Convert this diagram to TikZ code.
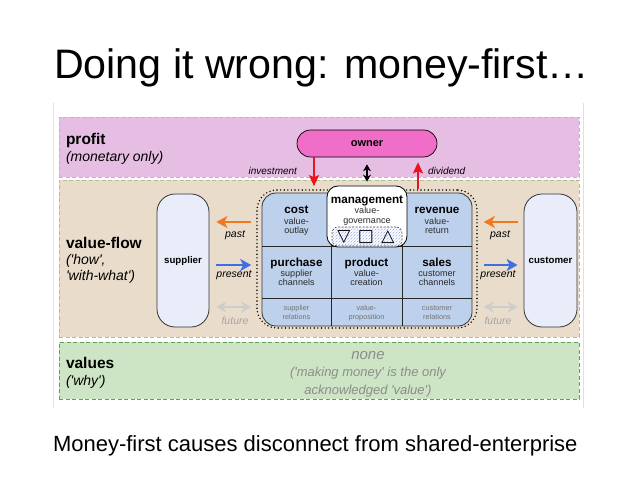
\documentclass[tikz,border=0pt]{standalone}
\usepackage{fontspec}
\setmainfont{Liberation Sans}
\newfontfamily\symfont{DejaVu Sans}
\usetikzlibrary{arrows.meta,patterns}
\newcommand\myq{\textquotesingle}
\definecolor{pinkband}{RGB}{230,190,227}
\definecolor{tanband}{RGB}{234,220,203}
\definecolor{greenband}{RGB}{205,229,196}
\definecolor{tanborder}{RGB}{175,190,150}
\definecolor{greenborder}{RGB}{95,160,85}
\definecolor{ownerfill}{RGB}{240,110,200}
\definecolor{cellblue}{RGB}{190,209,236}
\definecolor{boxfill}{RGB}{233,237,249}
\definecolor{arroworange}{RGB}{240,120,30}
\definecolor{arrowblue}{RGB}{65,110,225}
\definecolor{arrowgray}{RGB}{205,205,205}
\definecolor{arrowred}{RGB}{235,20,30}
\definecolor{textgray}{RGB}{140,140,140}
\definecolor{subgray}{RGB}{40,40,40}
\definecolor{relgray}{RGB}{115,115,115}
\definecolor{futuregray}{RGB}{165,165,165}
\tikzset{
  band/.style={dash pattern=on 4pt off 2.5pt, line width=0.8pt, minimum width=520pt, inner sep=0pt},
  tx/.style={inner sep=0pt, outer sep=0pt, anchor=base},
  txl/.style={inner sep=0pt, outer sep=0pt, anchor=base west},
  bandtitle/.style={txl, font=\fontsize{15.5}{15.5}\selectfont\bfseries},
  bandsub/.style={txl, font=\fontsize{14}{14}\selectfont\itshape},
  celltitle/.style={tx, font=\fontsize{11.7}{11.7}\selectfont\bfseries},
  cellsub/.style={tx, text=subgray, font=\fontsize{9}{9}\selectfont},
  cellrel/.style={tx, text=relgray, font=\fontsize{7.3}{7.3}\selectfont},
  flowlbl/.style={tx, font=\fontsize{10.5}{10.5}\selectfont\itshape},
  sidebox/.style={draw=black!80, line width=0.8pt, fill=boxfill, rounded corners=18pt, minimum width=52pt, minimum height=133pt, inner sep=0pt, font=\fontsize{9.7}{9.7}\selectfont\bfseries},
  flow/.style={line width=2.6pt, -{Stealth[length=11pt,width=12pt,inset=3pt]}},
  flowboth/.style={line width=2.4pt, arrowgray, {Stealth[length=10pt,width=11pt,inset=3pt]}-{Stealth[length=10pt,width=11pt,inset=3pt]}},
  redarrow/.style={arrowred, line width=2pt, -{Stealth[length=11pt,width=10pt,inset=2pt]}},
  sym/.style={inner sep=0pt, font=\symfont\fontsize{17}{17}\selectfont},
}
\begin{document}
\begin{tikzpicture}[x=1pt,y=-1pt]
\useasboundingbox (0,0) rectangle (638,479);
\fill[white] (0,0) rectangle (638,479);

\node[txl, font=\fontsize{41.2}{41.2}\selectfont] (title) at (54,78) {Doing it wrong: money-first…};

\draw[black!12, line width=0.6pt] (53,103) -- (53,408) (583,103) -- (583,408);

% bands
\node[band, draw=gray!55, fill=pinkband, minimum height=60pt] (profitband) at (319,147) {};
\node[band, draw=tanborder, fill=tanband, minimum height=157pt] (flowband) at (319,258.5) {};
\node[band, draw=greenborder, fill=greenband, minimum height=57pt] (valband) at (319,370.5) {};

% band labels
\node[bandtitle] (lprofit) at (66,144) {profit};
\node[bandsub] (lprofitsub) at (66,161) {(monetary only)};
\node[bandtitle] (lflow) at (66,248) {value-flow};
\node[bandsub] (lflowa) at (66,264) {(\myq how\myq ,};
\node[bandsub] (lflowb) at (66,280) {\myq with-what\myq )};
\node[bandtitle] (lval) at (66,368) {values};
\node[bandsub] (lvalsub) at (66,385) {(\myq why\myq )};

% owner
\node[draw=black, line width=0.7pt, fill=ownerfill, rounded corners=13.5pt, minimum width=140pt, minimum height=27pt, inner sep=0pt, font=\fontsize{11}{11}\selectfont\bfseries] (owner) at (367,143.5) {owner};

% core
\node[draw=black, line width=1.6pt, dash pattern=on 0pt off 3.6pt, line cap=round, rounded corners=20pt, minimum width=220pt, minimum height=138pt, inner sep=0pt] (core) at (367,259) {};
\node[draw=black!80, line width=0.8pt, fill=cellblue, rounded corners=14pt, minimum width=210pt, minimum height=133pt, inner sep=0pt] (grid) at (367,259.5) {};
\draw[black!85, line width=0.8pt] (331,193) -- (331,326) (402,193) -- (402,326) (262,246) -- (472,246) (262,298) -- (472,298);

\node[draw=black, line width=0.8pt, fill=white, rounded corners=11pt, minimum width=80pt, minimum height=61pt, inner sep=0pt] (mgmt) at (367,216.5) {};
\node[draw=black!70, dash pattern=on 2pt off 1.5pt, line width=0.6pt, rounded corners=6pt, preaction={fill=white}, pattern=north east lines, pattern color=cellblue!80!blue, minimum width=70pt, minimum height=19pt, inner sep=0pt] (gov) at (367,236.5) {};
\node[sym] (symdown) at (344,237) {▽};
\node[sym] (symsq) at (366,237) {□};
\node[sym] (symup) at (388,237) {△};

% cell texts
\node[celltitle] (tmgmt) at (367,203) {management};
\node[cellsub] (tmgmta) at (367,213.5) {value-};
\node[cellsub] (tmgmtb) at (367,223.5) {governance};

\node[celltitle] (tcost) at (296.5,213) {cost};
\node[cellsub] (tcosta) at (296.5,224) {value-};
\node[cellsub] (tcostb) at (296.5,233.5) {outlay};

\node[celltitle] (trev) at (437,213) {revenue};
\node[cellsub] (treva) at (437,224) {value-};
\node[cellsub] (trevb) at (437,233.5) {return};

\node[celltitle] (tpur) at (296.5,266) {purchase};
\node[cellsub] (tpura) at (296.5,276) {supplier};
\node[cellsub] (tpurb) at (296.5,285.5) {channels};

\node[celltitle] (tprod) at (366.5,266) {product};
\node[cellsub] (tproda) at (366.5,276) {value-};
\node[cellsub] (tprodb) at (366.5,285.5) {creation};

\node[celltitle] (tsales) at (437,266) {sales};
\node[cellsub] (tsalesa) at (437,276) {customer};
\node[cellsub] (tsalesb) at (437,285.5) {channels};

\node[cellrel] (trela) at (296.5,310) {supplier};
\node[cellrel] (trelb) at (296.5,319) {relations};
\node[cellrel] (tpropa) at (366.5,310) {value-};
\node[cellrel] (tpropb) at (366.5,319) {proposition};
\node[cellrel] (tcrela) at (437,310) {customer};
\node[cellrel] (tcrelb) at (437,319) {relations};

% side boxes
\node[sidebox] (supplier) at (183,260.5) {supplier};
\node[sidebox, minimum width=53pt] (customer) at (550.5,260.5) {customer};

% flows left
\draw[flow, arroworange, shorten <=5pt, shorten >=7pt] (core.west |- 0,222) -- (supplier.east |- 0,222);
\draw[flow, arrowblue, shorten <=7pt, shorten >=5pt] (supplier.east |- 0,265) -- (core.west |- 0,265);
\draw[flowboth, shorten <=7pt, shorten >=5pt] (supplier.east |- 0,307) -- (core.west |- 0,307);
\node[flowlbl] (lpast) at (235,237) {past};
\node[flowlbl] (lpresent) at (234,277) {present};
\node[flowlbl, text=futuregray] (lfuture) at (235,324) {future};

% flows right
\draw[flow, arroworange, shorten <=6pt, shorten >=6pt] (customer.west |- 0,222) -- (core.east |- 0,222);
\draw[flow, arrowblue, shorten <=6pt, shorten >=6pt] (core.east |- 0,265) -- (customer.west |- 0,265);
\draw[flowboth, shorten <=6pt, shorten >=6pt] (core.east |- 0,307) -- (customer.west |- 0,307);
\node[flowlbl] (rpast) at (500,237) {past};
\node[flowlbl] (rpresent) at (498,277) {present};
\node[flowlbl, text=futuregray] (rfuture) at (498,324) {future};

% owner arrows
\draw[redarrow, shorten >=3pt] (owner.south -| 314,0) -- (core.north -| 314,0);
\draw[redarrow, shorten >=5pt] (core.north -| 418,0) -- (owner.south -| 418,0);
\draw[black, line width=1.6pt, {Stealth[length=7pt,width=8pt]}-{Stealth[length=7pt,width=8pt]}, shorten <=7pt, shorten >=4pt] (owner.south) -- (mgmt.north);
\node[tx, anchor=base east, font=\fontsize{10}{10}\selectfont\itshape] (linv) at (297,174) {investment};
\node[txl, font=\fontsize{10}{10}\selectfont\itshape] (ldiv) at (428,174) {dividend};

% values band text
\node[tx, text=textgray, font=\fontsize{15}{15}\selectfont\itshape] (none) at (368,359.5) {none};
\node[tx, text=textgray, font=\fontsize{13}{13}\selectfont\itshape] (nonea) at (368,376.5) {(\myq making money\myq\ is the only};
\node[tx, text=textgray, font=\fontsize{13}{13}\selectfont\itshape] (noneb) at (368,394) {acknowledged \myq value\myq )};

\node[txl, font=\fontsize{22}{22}\selectfont] (caption) at (53,451) {Money-first causes disconnect from shared-enterprise};
\end{tikzpicture}
\end{document}
